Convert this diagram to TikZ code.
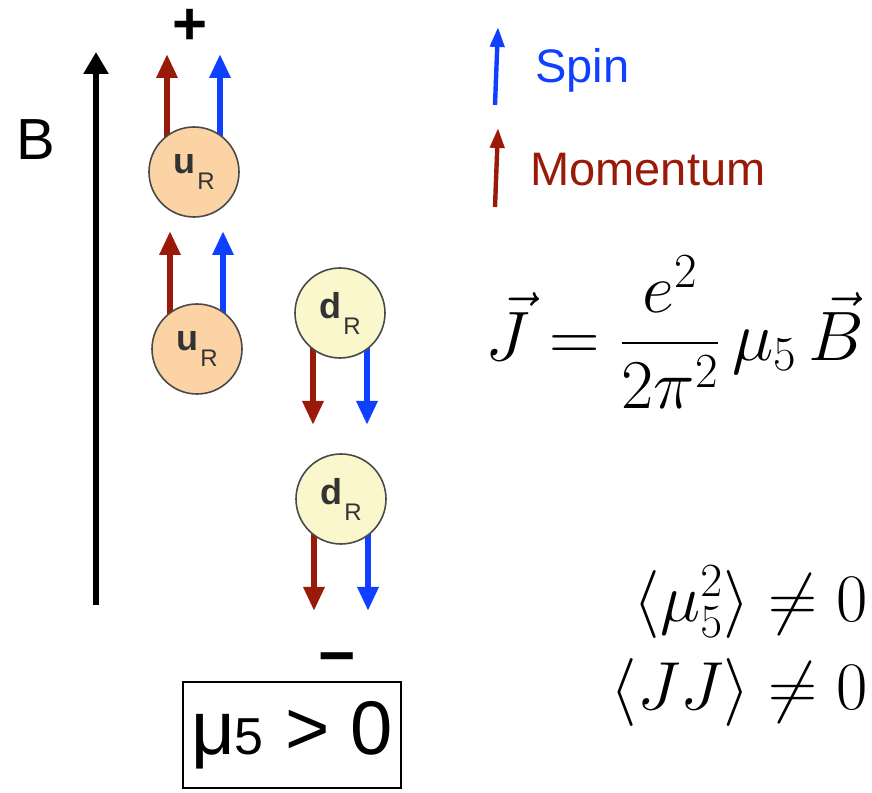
\RequirePackage{fix-cm}
\documentclass[tikz,border=0pt]{standalone}
\usepackage{amsmath}
\usepackage{fontspec}
\setmainfont{Liberation Sans}
\usetikzlibrary{arrows.meta,calc,backgrounds}
\definecolor{MomRed}{HTML}{9A1A0A}
\definecolor{SpinBlue}{HTML}{1040FF}
\definecolor{UpPeach}{HTML}{FCD3A5}
\definecolor{DownCream}{HTML}{FAF7CC}
\definecolor{QuarkRim}{HTML}{4A4A4A}
\definecolor{QuarkInk}{HTML}{333333}
\newcommand{\qlab}[1]{\textbf{#1}\hspace{1pt}\raisebox{-8pt}{\fontsize{12}{12}\selectfont R}}

\begin{document}
\begin{tikzpicture}[x=0.5pt,y=0.5pt,>=Latex]
  \tikzset{quark/.style={circle,draw=QuarkRim,line width=0.8pt,minimum size=45pt,inner sep=0pt,text=QuarkInk,font=\fontsize{18}{18}\selectfont},
           upq/.style={quark,fill=UpPeach},
           downq/.style={quark,fill=DownCream},
           momvec/.style={MomRed,line width=3pt,-{Triangle[width=10pt,length=12pt]}},
           spinvec/.style={SpinBlue,line width=3pt,-{Triangle[width=10pt,length=12pt]}},
           keyvec/.style={line width=2.2pt,-{Triangle[width=7pt,length=10pt]}},
           field/.style={black,line width=3pt,-{Triangle[width=12pt,length=11pt]}}}
  \useasboundingbox (0,0) rectangle (872,792);
  % field axis
  \coordinate (btail) at (96,187);
  \coordinate (bhead) at (96,740);
  \draw[field] (btail) -- (bhead);
  \node (blab) at (36,652) {\fontsize{29}{29}\selectfont B};
  \node (plus) at (190,765) {\fontsize{30}{30}\selectfont\bfseries +};
  \node (minus) at (337,127) {\fontsize{32}{32}\selectfont\bfseries −};
  % quarks
  \node[upq] (u1) at (194,620) {\qlab{u}};
  \node[upq] (u2) at (197,443) {\qlab{u}};
  \node[downq] (d1) at (340,479) {\qlab{d}};
  \node[downq] (d2) at (341,293) {\qlab{d}};
  \begin{scope}[on background layer]
    \foreach \q in {u1,u2}{
      \draw[momvec] ($(\q)+(-27,0)$) -- ++(0,118);
      \draw[spinvec] ($(\q)+(26,0)$) -- ++(0,118);
    }
    \foreach \q in {d1,d2}{
      \draw[momvec] ($(\q)+(-27,0)$) -- ++(0,-112);
      \draw[spinvec] ($(\q)+(27,0)$) -- ++(0,-112);
    }
  \end{scope}
  \node[draw,line width=1pt,minimum width=109pt,minimum height=53pt,inner sep=0pt] (mubox) at (292,57)
    {\fontsize{38}{38}\selectfont μ{\fontsize{26}{26}\selectfont 5} > 0};
  % legend
  \coordinate (spintail) at (495,687);
  \coordinate (spinhead) at (498,765);
  \coordinate (momtail) at (495,585);
  \coordinate (momhead) at (498,664);
  \draw[keyvec,SpinBlue] (spintail) -- (spinhead);
  \draw[keyvec,MomRed] (momtail) -- (momhead);
  \node[anchor=west,text=SpinBlue,inner sep=0pt] (spinlab) at (535,722) {\fontsize{23.5}{23.5}\selectfont Spin};
  \node[anchor=west,text=MomRed,inner sep=0pt] (momlab) at (530,622) {\fontsize{23.5}{23.5}\selectfont Momentum};
  % formulas
  \node (cme) at (675,460) {\fontsize{35}{42}\selectfont $\displaystyle \vec{J} = \frac{e^2}{2\pi^2}\,\mu_5\,\vec{B}$};
  \node[anchor=east,inner sep=0pt] (musq) at (868,190) {\fontsize{34}{40}\selectfont $\langle\mu_5^2\rangle \neq 0$};
  \node[anchor=east,inner sep=0pt] (jj) at (868,100) {\fontsize{34}{40}\selectfont $\langle JJ\rangle \neq 0$};
\end{tikzpicture}
\end{document}
